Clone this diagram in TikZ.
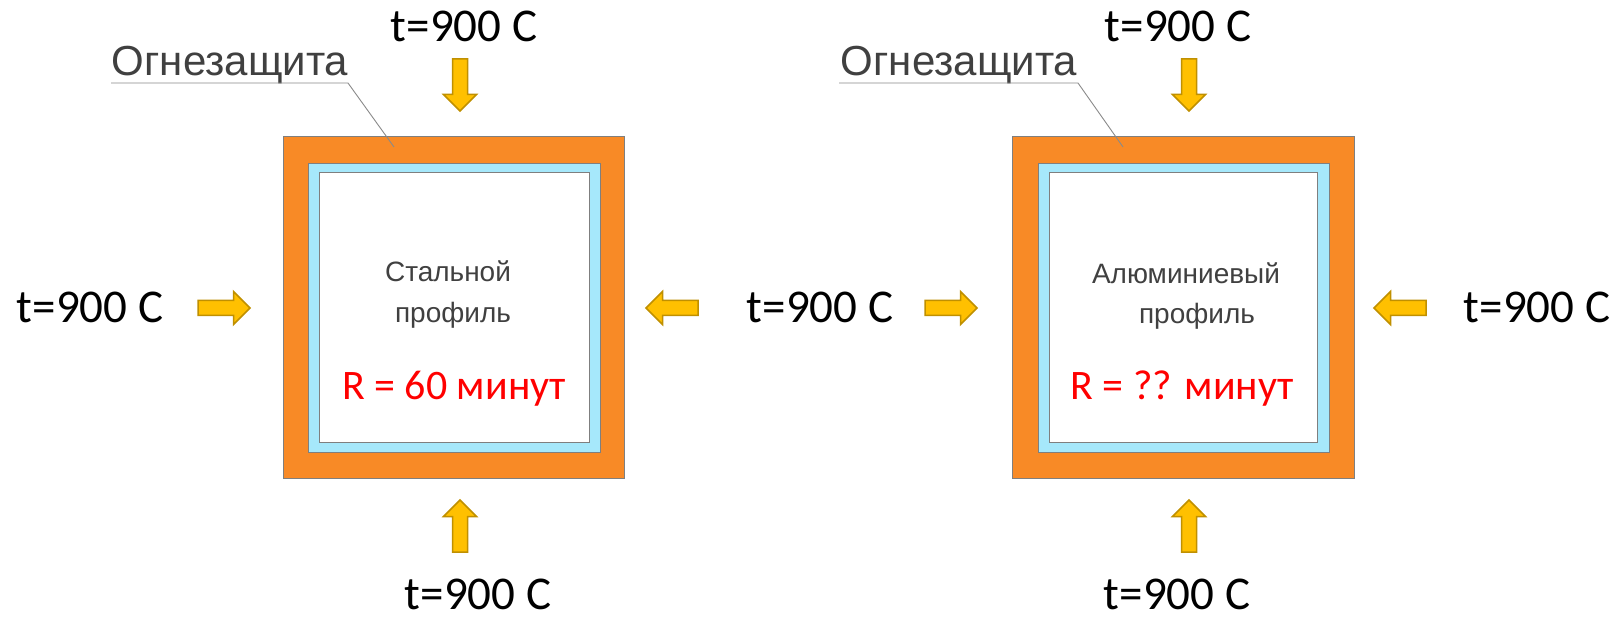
\documentclass[tikz,border=0pt]{standalone}
\usepackage{fontspec}
\setmainfont{Carlito}
\newfontfamily\arialf{Liberation Sans}
\definecolor{fireor}{HTML}{F88A26}
\definecolor{lightbl}{HTML}{A6E8FB}
\definecolor{arrfill}{HTML}{FFC000}
\definecolor{arrdraw}{HTML}{C09000}
\definecolor{edgegray}{HTML}{7F7F7F}
\definecolor{lblgray}{HTML}{404040}
\definecolor{leadgray}{HTML}{8A8A8A}
\tikzset{
  orangebox/.style={draw=edgegray, line width=0.8pt, fill=fireor, inner sep=0pt},
  bluebox/.style={draw=edgegray, line width=0.8pt, fill=lightbl, inner sep=0pt},
  whitebox/.style={draw=edgegray, line width=0.8pt, fill=white, inner sep=0pt},
  temptext/.style={font=\fontsize{47}{47}\selectfont, text=black, anchor=base, inner sep=0pt},
  graylbl/.style={font=\arialf\fontsize{28}{28}\selectfont, text=lblgray, anchor=base, inner sep=0pt},
  firelbl/.style={font=\arialf\fontsize{42}{42}\selectfont, text=lblgray, anchor=base, inner sep=0pt},
  redlbl/.style={font=\fontsize{42}{42}\selectfont, text=red, anchor=base, inner sep=0pt},
  leader/.style={draw=leadgray, line width=0.9pt},
  arrowstyle/.style={fill=arrfill, draw=arrdraw, line width=1.5pt, line join=miter},
  fatarr/.pic={\path[arrowstyle] (-26,-7.5) -- (9.5,-7.5) -- (9.5,-16.5) -- (26,0) -- (9.5,16.5) -- (9.5,7.5) -- (-26,7.5) -- cycle;}
}
\begin{document}
\begin{tikzpicture}[x=1pt,y=-1pt]
\useasboundingbox[fill=white] (0,0) rectangle (1618,617);

% left (steel) box
\node[orangebox, minimum width=341pt, minimum height=342pt] (sO) at (453.5,307) {};
\node[bluebox, minimum width=292pt, minimum height=289pt] (sB) at (454,307.5) {};
\node[whitebox, minimum width=270pt, minimum height=270pt] (sW) at (454,307) {};
\node[graylbl] (s1) at (448,282) {Стальной};
\node[graylbl] (s2) at (453,323) {профиль};
\node[redlbl] (sR) at (454,400) {R = 60 минут};

% right (aluminium) box
\node[orangebox, minimum width=342pt, minimum height=342pt] (aO) at (1183,307) {};
\node[bluebox, minimum width=291pt, minimum height=289pt] (aB) at (1183.5,307.5) {};
\node[whitebox, minimum width=268pt, minimum height=270pt] (aW) at (1183,307) {};
\node[graylbl] (a1) at (1186,284) {Алюминиевый};
\node[graylbl] (a2) at (1197,324) {профиль};
\node[redlbl] (aR) at (1182,400) {R = ?? минут};

% fire protection labels
\node[firelbl] (f1) at (230,76) {Огнезащита};
\node[firelbl] (f2) at (959,76) {Огнезащита};
\coordinate (f1a) at (111,83);
\coordinate (f1b) at (348,83);
\coordinate (f1c) at (394,147);
\coordinate (f2a) at (839,83);
\coordinate (f2b) at (1078,83);
\coordinate (f2c) at (1123,147);
\draw[leader] (f1a) -- (f1b) -- (f1c);
\draw[leader] (f2a) -- (f2b) -- (f2c);

% temperature labels
\node[temptext] (t1) at (464,42) {t=900 C};
\node[temptext] (t2) at (90,323) {t=900 C};
\node[temptext] (t3) at (820,323) {t=900 C};
\node[temptext] (t4) at (1537,323) {t=900 C};
\node[temptext] (t5) at (478,609) {t=900 C};
\node[temptext] (t6) at (1178,42) {t=900 C};
\node[temptext] (t7) at (1177,609) {t=900 C};

% block arrows
\pic[rotate=-90] at (460,85) {fatarr};
\pic[rotate=90] at (460,526) {fatarr};
\pic at (224,308) {fatarr};
\pic[rotate=180] at (672,308) {fatarr};
\pic[rotate=-90] at (1189,85) {fatarr};
\pic[rotate=90] at (1189,526) {fatarr};
\pic at (951,308) {fatarr};
\pic[rotate=180] at (1400,308) {fatarr};
\end{tikzpicture}
\end{document}
